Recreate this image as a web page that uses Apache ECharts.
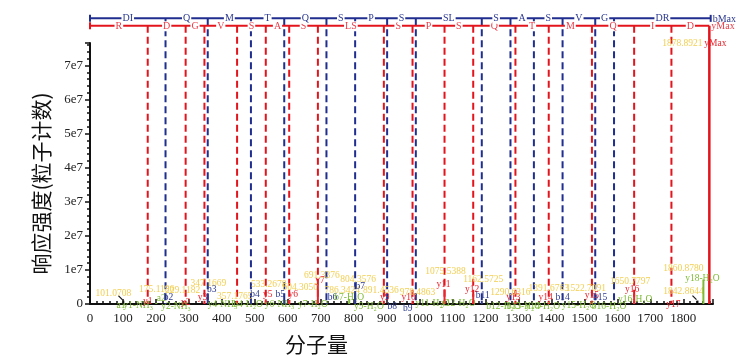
<!DOCTYPE html>
<html><head><meta charset="utf-8">
<script src="https://cdn.jsdelivr.net/npm/echarts@6/dist/echarts.min.js"></script>
<style>html,body{margin:0;padding:0;background:#fff}#c{width:753px;height:360px}</style>
</head><body><div id="c"></div>
<script>
// ================= DATA =================
// b-ion ladder (m/z) and residues between consecutive rungs
const bLadderMz = [0, 229.1182, 357.177, 488.217, 589.265, 717.324, 804.3576, 901.408, 988.440, 1188.556, 1275.589, 1346.626, 1433.658, 1532.726, 1589.748, 1883];
const bLadderResidues = ['DI','Q','M','T','Q','S','P','S','SL','S','A','S','V','G','DR'];
// y-ion ladder
const yLadderMz = [0, 175.1186, 290.146, 347.1669, 446.236, 533.2678, 604.3050, 691.3376, 891.4536, 978.4863, 1075.5388, 1162.5725, 1290.6316, 1391.6763, 1522.7091, 1650.7797, 1763.859, 1878.8921];
const yLadderResidues = ['R','D','G','V','S','A','S','LS','S','P','S','Q','T','M','Q','I','D'];

// annotated peaks
const peakMz = [88.039, 101.0708, 158.092, 175.1186, 201.123, 229.1182, 273.119, 290.146, 347.1669, 357.1765,
  429.209, 470.206, 488.217, 533.2678, 587.278, 589.265, 604.3050, 673.327, 691.3376, 717.324,
  786.3424, 804.3576, 873.443, 891.4536, 901.408, 978.4863, 988.440, 1057.528, 1075.5388, 1144.56,
  1162.5725, 1188.556, 1257.58, 1290.6316, 1328.615, 1373.67, 1391.6763, 1433.658, 1504.70, 1522.7091,
  1532.726, 1571.737, 1632.77, 1650.7797, 1763.859, 1842.8644, 1860.8780, 1878.8921];
const peakIntensity = [0, 0.1e7, 0, 0, 0.03e7, 0.03e7, 0, 0, 0.03e7, 0.29e7,
  0, 0, 0.12e7, 0.14e7, 0, 0.12e7, 0.12e7, 0, 0.55e7, 0.03e7,
  0.15e7, 0.38e7, 0, 0.03e7, 0, 0.03e7, 0, 0, 0.43e7, 0,
  0.29e7, 0.09e7, 0, 0.03e7, 0, 0, 0.03e7, 0.03e7, 0, 0.09e7,
  0.03e7, 0, 0, 0.29e7, 0, 0.1e7, 0.72e7, 7.6e7];
const peakKind = ['o','n','o','y','o','b','o','y','y','b',
  'o','o','b','y','o','b','y','o','y','b',
  'o','b','o','y','b','y','b','o','y','o',
  'y','b','o','y','o','o','y','b','o','y',
  'b','o','o','y','y','n','o','y'];
const peakIon = ['a1','','y1-NH₃','y1','a2','b2','y2-NH₃','y2','y3','b3',
  'y4-NH₃','b4-H₂O','b4','y5','y6-NH₃','b5','y6','y7-H₂O','y7','b6',
  'b7-H₂O','b7','y9-H₂O','y9','b8','y10','b9','y11-H₂O','y11','y12-H₂O',
  'y12','b11','b12-H₂O','y13','b13-H₂O','y14-H₂O','y14','b14','y15-H₂O','y15',
  'b15','b16-H₂O','y16-H₂O','y16','y17','','y18-H₂O','yMax'];
const peakShowMz = [0,1,0,1,0,1,0,0,1,1, 0,0,0,1,0,0,1,0,1,0, 1,1,0,1,0,1,0,0,1,0,
  1,0,0,1,0,0,1,0,0,1, 0,0,0,1,0,1,1,1];

const xTicks = {min: 0, max: 1890, step: 100};
const yTicks = {min: 0, max: 7.66e7, step: 1e7};

// ================= LAYOUT / STYLE =================
const ionNudge = [[2,6],null,[-4,6],[0,2],[5,1],[3,0],[-4,7],[0,3],[-2,0],[4,0],
  [-9,5],[3,5],[4,0],[2,0],[-4,5],[-4,0],[4,0],[1,5],[2,0],[6,0],
  [0,4],[5,0],[-9,7],[1,0],[5,7],[-4,0],[-8,9],[-6,4],[-1,0],[-9,4],
  [-1,0],[1,0],[-1,7],[-2,0],[-4,7],[0,7],[-3,0],[0,0],[-7,6],[0,0],
  [5,0],[1,7],[7,0],[-2,0],[2,5],null,[-1,4],[6,3]];
const mzNudge = {1:[-10,9],3:[9,1],5:[17,4],8:[4,-3],9:[27,18],13:[3,1],16:[11,4],18:[4,6],
  20:[-7,8],21:[3,4],23:[-3,4],25:[5,6],28:[1,-2],30:[10,1],33:[-5,6],36:[0,2],39:[-6,4],
  43:[-4,3],45:[-14,7],46:[-20,5],47:[-27,14]};
const bLevel = 8.383e7, yLevel = 8.166e7;
const C = {bLine:'#1f2e8f', yLine:'#e3141c', bTxt:'#2b3990', yTxt:'#ea3e4a',
  y:'#e8262e', b:'#2b3990', o:'#7fba35', n:'#111111', mz:'#f2cf52'};
const serif = '"Liberation Serif", "DejaVu Serif", serif';
const fLabel = '9.5px ' + serif, fLadder = '10px ' + serif;

function ladderGroup(api) {
  const ch = [];
  function ladder(mzs, res, level, lineC, txtC, endLabel, fullEnd) {
    const p0 = api.coord([mzs[0], level]), pN = api.coord([mzs[mzs.length-1], level]);
    const base = api.coord([0, 0])[1];
    mzs.forEach((m, i) => {
      const p = api.coord([m, level]);
      if (i === 0 || (i === mzs.length - 1 && !fullEnd)) {
        ch.push({type:'line', shape:{x1:p[0], y1:p[1]-3.5, x2:p[0], y2:p[1]+3.5}, style:{stroke:lineC, lineWidth:2}, z2:5});
      } else if (i === mzs.length - 1) {
        ch.push({type:'line', shape:{x1:p[0], y1:p[1], x2:p[0], y2:base}, style:{stroke:lineC, lineWidth:2.5}, z2:5});
      } else {
        ch.push({type:'line', shape:{x1:p[0], y1:p[1], x2:p[0], y2:base}, style:{stroke:lineC, lineWidth:2, lineDash:[7,4]}, z2:1});
      }
    });
    ch.push({type:'line', shape:{x1:p0[0], y1:p0[1], x2:pN[0], y2:pN[1]}, style:{stroke:lineC, lineWidth:2}, z2:4});
    res.forEach((r, i) => {
      const a = api.coord([mzs[i], level]), b = api.coord([mzs[i+1], level]);
      ch.push({type:'text', x:(a[0]+b[0])/2, y:a[1]+0.5, z2:6, style:{text:r, fill:txtC, font:fLadder, align:'center', verticalAlign:'middle', backgroundColor:'#fff', padding:[0,1]}});
    });
    ch.push({type:'text', x:pN[0]+2, y:pN[1]+1, z2:6, style:{text:endLabel, fill:txtC, font:fLadder, align:'left', verticalAlign:'middle'}});
  }
  ladder(yLadderMz, yLadderResidues, yLevel, C.yLine, C.yTxt, 'yMax', true);
  ladder(bLadderMz, bLadderResidues, bLevel, C.bLine, C.bTxt, 'bMax', false);
  return {type:'group', children:ch};
}

function peakGroup(params, api) {
  const i = api.value(2), mz = api.value(0), it = api.value(1);
  const base = api.coord([mz, 0]), top = api.coord([mz, it]);
  const k = peakKind[i], ch = [];
  if (it > 0 && i !== peakMz.length - 1) ch.push({type:'line', shape:{x1:base[0], y1:base[1], x2:top[0], y2:top[1]}, style:{stroke:C[k], lineWidth:2}});
  if (k === 'n') {
    // leader from displaced value label to its peak
    ch.push({type:'line', shape:{x1:top[0]-5, y1:top[1]-5, x2:top[0]-1, y2:top[1]-1}, style:{stroke:'#111', lineWidth:1.2}});
  }
  if (peakIon[i]) {
    const n = ionNudge[i] || [0,0];
    ch.push({type:'text', x:top[0]+n[0], y:top[1]-5+n[1], style:{text:peakIon[i], fill:C[k], font:fLabel, align:'center', verticalAlign:'middle'}});
  }
  if (peakShowMz[i]) {
    const n = mzNudge[i] || [0,0];
    ch.push({type:'text', x:top[0]+n[0], y:top[1]-16+n[1], style:{text:peakMz[i].toFixed(4), fill:C.mz, font:fLabel, align:'center', verticalAlign:'middle'}});
  }
  return {type:'group', children:ch};
}

const chart = echarts.init(document.getElementById('c'), null, {renderer:'canvas'});
chart.setOption({
  animation:false,
  backgroundColor:'#fff',
  grid:{left:90, right:40, top:43, bottom:52, containLabel:false},
  xAxis:{type:'value', min:xTicks.min, max:xTicks.max, interval:xTicks.step,
    name:'分子量', nameLocation:'middle', nameGap:30,
    nameTextStyle:{fontSize:21, color:'#111', fontFamily:'"Noto Sans CJK SC", serif', padding:[0,170,0,0]},
    axisLine:{lineStyle:{color:'#111', width:2}},
    axisTick:{inside:true, length:5, lineStyle:{color:'#111', width:1.5}},
    minorTick:{show:true, splitNumber:5, length:3, lineStyle:{color:'#111', width:1.5}},
    axisLabel:{color:'#222', fontSize:13, fontFamily:serif, margin:8, formatter:v => (v % 100 === 0 ? String(v) : '')},
    splitLine:{show:false}},
  yAxis:{type:'value', min:yTicks.min, max:yTicks.max, interval:yTicks.step,
    name:'响应强度(粒子计数)', nameLocation:'middle', nameGap:38, nameRotate:90,
    nameTextStyle:{fontSize:21, color:'#111', fontFamily:'"Noto Sans CJK SC", serif', padding:[0,20,0,0]},
    axisLine:{show:true, lineStyle:{color:'#111', width:2}},
    axisTick:{show:true, inside:false, length:5, lineStyle:{color:'#111', width:1.5}},
    minorTick:{show:true, splitNumber:5, length:3, lineStyle:{color:'#111', width:1.5}},
    axisLabel:{color:'#222', fontSize:13, fontFamily:serif, margin:7, formatter:v => (v === 0 ? '0' : (Math.abs(v % 1e7) < 1 ? (v/1e7) + 'e7' : ''))},
    splitLine:{show:false}},
  series:[
    {type:'custom', silent:true, clip:false, z:2, data:[[0,0]], renderItem:(p, api) => ladderGroup(api)},
    {type:'custom', silent:true, clip:false, z:3, data:peakMz.map((m,i) => [m, peakIntensity[i], i]), renderItem:peakGroup}
  ]
});
</script></body></html>
